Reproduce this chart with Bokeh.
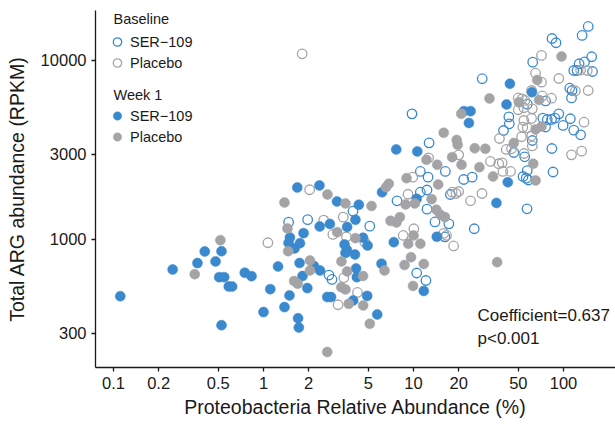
from bokeh.plotting import figure
from bokeh.models import Range1d, FixedTicker, CustomJSTickFormatter, Legend, LegendItem, Label, Title
from bokeh.embed import file_html
from bokeh.resources import INLINE

# ---------------- data ----------------
# Baseline, SER-109 (open blue)
base_ser_x = [1.47, 1.97, 2.73, 2.86, 3.95, 5.11, 7.76, 11.1, 12.5, 16.3, 21.6, 11.1, 12.3, 12.3, 13.9, 17.2,
              17.6, 16.2, 10.5, 12.1, 9.77, 12.7,
              24.6, 28.7, 25.4, 57.1, 46.6, 55.1, 83.6, 57.3, 53.7, 56.4, 58.3, 85.1,
              146, 133, 83.8, 89.1, 62.3, 154, 138, 127, 117, 123, 156, 110, 114, 113,
              75.9, 57.3, 43.2, 43.5, 72.8, 77.9, 83.2, 87.5, 93.0, 75.9, 111, 99.3, 117, 130, 39.8, 61.9]
base_ser_y = [1250, 1291, 633, 598, 1439, 1187, 1645, 2399, 2229, 2399, 2163, 1837, 1890, 1477, 1253, 1223,
              1784, 1035, 650, 590, 5036, 3468,
              2229, 7910, 1148, 1484, 3062, 2897, 3223, 2428, 2249, 2200, 2149, 2383,
              15490, 13800, 13270, 12560, 9790, 10490, 9810, 9590, 8790, 8790, 8680, 7000, 6795, 6180,
              5940, 5700, 4845, 4430, 4763, 4680, 4680, 4763, 5036, 4250, 4725, 4335, 4080, 3845, 4063, 3573]

# Baseline, Placebo (open gray)
base_pla_x = [1.81, 1.07, 2.03, 2.52, 2.90, 3.14, 3.40, 3.57, 4.73, 3.43, 4.23, 9.89, 9.19, 18.1, 19.2, 20.0,
              10.05, 8.54, 15.9, 16.6, 18.5, 12.6, 20.0, 24.0, 28.6, 41.5, 45.0, 54.5, 61.9, 113, 132, 32.6,
              37.0, 39.0, 39.4, 44.3,
              71.3, 65.1, 71.3, 93.0, 130, 144, 120, 146, 61.2, 72.1, 83.2, 49.9, 52.9, 55.2, 61.9, 49.9,
              54.4, 54.4, 61.2, 53.5, 57.3, 137, 37.4, 52.5, 61.4]
base_pla_y = [10900, 959, 1896, 1282, 1067, 432, 1333, 1035, 966, 611, 506, 2229, 1790, 1837, 1807, 1854,
              1148, 1053, 1081, 1053, 920, 2860, 2972, 1645, 1807, 3184, 3211, 3022, 3330, 2972, 3114, 2728,
              2649, 2681, 2399, 2399,
              10670, 8490, 7565, 7930, 8850, 8790, 6755, 6795, 6795, 6335, 6155, 6175, 6110, 5980, 5370, 5305,
              5445, 4620, 4745, 4240, 4207, 4520, 3665, 3748, 3795]

# Week 1, SER-109 (filled blue)
wk1_ser_x = [0.111, 0.248, 0.363, 0.406, 0.479, 0.525, 0.507, 0.547, 0.587, 0.618, 0.525, 0.75, 0.832, 1.11,
             1.25, 1.0, 1.38, 1.49, 1.70, 1.72, 1.96, 1.82, 1.74, 1.68, 2.36, 3.09, 2.37, 2.77, 1.85, 1.50,
             1.47, 1.75, 1.61, 2.17, 2.38, 2.66, 2.82, 3.61, 4.32, 4.10, 4.61, 4.94, 3.47, 3.60, 3.52, 4.07,
             4.14, 4.19, 4.91, 3.96, 5.73, 6.17, 10.5, 7.39, 14.3, 6.12, 11.7, 7.67, 10.6, 21.7, 24.0, 23.4,
             43.9, 41.7, 42.5, 35.7, 61.5]
wk1_ser_y = [482, 679, 738, 857, 754, 860, 616, 616, 546, 546, 332, 652, 624, 528,
             707, 393, 419, 487, 363, 322, 535, 625, 739, 1953, 2004, 1630, 1182, 1221, 1085, 1026,
             956, 953, 891, 711, 671, 477, 477, 1175, 1563, 1288, 1023, 925, 937, 874, 841, 824,
             689, 616, 484, 456, 381, 1837, 1687, 966, 1035, 732, 516, 3184, 3103, 5212, 5212, 4477,
             7413, 5678, 2090, 1600, 6653]

# Week 1, Placebo (filled gray)
wk1_pla_x = [0.348, 0.516, 1.38, 1.445, 1.46, 2.04, 2.04, 1.60, 1.69, 2.67, 2.66, 3.10, 3.31, 3.52, 5.25,
             4.10, 3.61, 4.61, 3.30, 3.52, 3.70, 4.62, 5.11, 6.84, 6.56, 8.98, 14.6, 8.85, 10.2, 13.2, 14.2,
             15.1, 16.2, 7.03, 7.70, 8.11, 10.0, 9.22, 11.1, 9.62, 8.71, 11.7, 6.41, 9.93, 15.9, 19.4, 19.7,
             20.8, 12.2, 14.4, 18.1, 20.9, 32.1, 25.6, 30.1, 27.5, 33.9, 62.8, 65.1, 36.1, 97.0, 66.8, 68.7,
             50.4, 71.3, 65.1, 46.6]
wk1_pla_y = [640, 991, 1610, 1152, 860, 763, 671, 586, 566, 1784, 235, 1099, 754, 1589, 1538,
             1017, 663, 625, 541, 526, 437, 428, 338, 2047, 1960, 2200, 2029, 1570, 1589, 1680, 1465,
             1374, 1333, 1271, 1245, 1333, 1053, 946, 946, 796, 720, 730, 671, 550, 3945, 3597, 3381,
             5036, 2786, 2613, 2884, 2613, 6137, 3231, 3211, 2535, 2249, 2649, 2137, 747, 10520, 7785, 6011,
             5848, 4277, 4120, 3459]

x_ticks = [0.1, 0.2, 0.5, 1, 2, 5, 10, 20, 50, 100]
y_ticks = [300, 1000, 3000, 10000]

group_labels = ["SER\u2212109", "Placebo"]
legend_titles = ["Baseline", "Week 1"]
x_title = "Proteobacteria Relative Abundance (%)"
y_title = "Total ARG abundance (RPKM)"
stat_lines = ["Coefficient=0.637", "p<0.001"]

# ---------------- styling ----------------
BLUE = "#3A89CF"
GRAY = "#A4A4A7"
INK = "#1a1a1a"
FONT = "Liberation Sans"

p = figure(width=615, height=426, x_axis_type="log", y_axis_type="log",
           x_range=Range1d(0.0759, 222), y_range=Range1d(192.7, 19020),
           output_backend="svg", toolbar_location=None,
           min_border_left=95, min_border_right=0, min_border_top=10, min_border_bottom=59)
p.outline_line_color = None
p.xgrid.visible = False
p.ygrid.visible = False

r_bs = p.scatter(base_ser_x, base_ser_y, size=9.5, fill_color=None, line_color=BLUE, line_width=1.3)
r_bp = p.scatter(base_pla_x, base_pla_y, size=9.5, fill_color=None, line_color=GRAY, line_width=1.3)
r_ws = p.scatter(wk1_ser_x, wk1_ser_y, size=10, fill_color=BLUE, line_color=BLUE, line_width=0.5)
r_wp = p.scatter(wk1_pla_x, wk1_pla_y, size=10, fill_color=GRAY, line_color=GRAY, line_width=0.5)

for ax in (p.xaxis[0], p.yaxis[0]):
    ax.axis_line_color = INK
    ax.axis_line_width = 1.3
    ax.major_tick_line_color = INK
    ax.major_tick_line_width = 1.3
    ax.major_tick_out = 4
    ax.major_tick_in = 0
    ax.minor_tick_line_color = None
    ax.major_label_text_font = FONT
    ax.major_label_text_font_size = "16.5px"
    ax.major_label_text_color = INK
    ax.major_label_standoff = 5
    ax.formatter = CustomJSTickFormatter(code="return String(tick)")

p.xaxis.ticker = FixedTicker(ticks=x_ticks)
p.yaxis.ticker = FixedTicker(ticks=y_ticks)

p.yaxis.axis_label = y_title
p.yaxis.axis_label_text_font = FONT
p.yaxis.axis_label_text_font_size = "19.5px"
p.yaxis.axis_label_text_font_style = "normal"
p.yaxis.axis_label_text_color = INK
p.yaxis.axis_label_standoff = 10

p.add_layout(Title(text=x_title, align="center", offset=11, standoff=5,
                   text_font=FONT, text_font_size="19.5px", text_font_style="normal",
                   text_color=INK), "below")

def make_legend(items, vy):
    return Legend(items=items, location=(11, vy), orientation="vertical",
                  border_line_color=None, background_fill_alpha=0, padding=0, spacing=0, margin=0,
                  glyph_width=22, glyph_height=21, label_height=21, label_standoff=2,
                  label_text_font=FONT, label_text_font_size="14.5px", label_text_color=INK)

leg1 = make_legend([LegendItem(label=group_labels[0], renderers=[r_bs]),
                    LegendItem(label=group_labels[1], renderers=[r_bp])], 294)
leg2 = make_legend([LegendItem(label=group_labels[0], renderers=[r_ws]),
                    LegendItem(label=group_labels[1], renderers=[r_wp])], 220)
p.add_layout(leg1)
p.add_layout(leg2)

for txt, yy in zip(legend_titles, [349, 273]):
    p.add_layout(Label(x=18, y=yy, x_units="screen", y_units="screen", text=txt,
                       text_font=FONT, text_font_size="14.5px", text_color=INK,
                       text_baseline="middle"))

for txt, yy in zip(stat_lines, [52, 29]):
    p.add_layout(Label(x=382, y=yy, x_units="screen", y_units="screen", text=txt,
                       text_font=FONT, text_font_size="17px", text_color=INK,
                       text_baseline="middle"))

open("out.html", "w").write(file_html(p, INLINE))
